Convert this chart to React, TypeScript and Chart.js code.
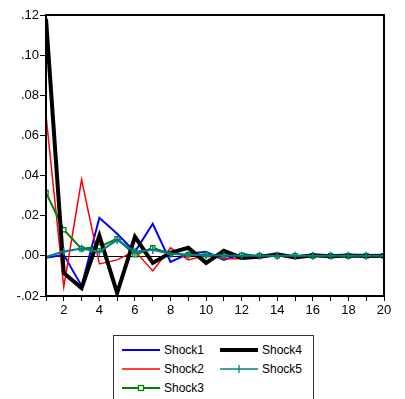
import React, { useEffect, useRef } from "react";
import { Chart, registerables } from "chart.js";

Chart.register(...registerables);

const periods = [1, 2, 3, 4, 5, 6, 7, 8, 9, 10, 11, 12, 13, 14, 15, 16, 17, 18, 19, 20];
const shock1 = [-0.001, 0.0005, -0.015, 0.019, 0.011, 0.002, 0.016, -0.003, 0.001, 0.002, -0.002, 0.001, -0.0005, 0.0005, -0.0003, 0.0002, -0.0001, 0.0001, 0, 0];
const shock2 = [0.07, -0.0155, 0.038, -0.004, -0.002, 0.0025, -0.0075, 0.004, -0.002, 0.0003, -0.0015, -0.0015, 0.0005, 0.0003, -0.0003, 0.0002, -0.0001, 0.0001, 0, 0];
const shock3 = [0.0315, 0.013, 0.0035, 0.0045, 0.0085, 0.0005, 0.004, 0.001, 0.0005, 0.0005, 0.0003, 0.0003, 0.0001, 0.0001, 0.0001, 0, 0, 0, 0, 0];
const shock4 = [0.118, -0.0085, -0.016, 0.01, -0.0185, 0.0095, -0.0035, 0.0015, 0.004, -0.0035, 0.0025, -0.001, -0.0005, 0.0008, -0.0008, 0.0003, -0.0002, 0.0002, -0.0001, 0];
const shock5 = [-0.0005, 0.0022, 0.0037, 0.002, 0.008, 0.002, 0.003, 0.001, 0.0005, 0.0003, 0.0002, 0.0001, 0, 0, 0, 0, 0, 0, 0, 0];

const seriesNames = ["Shock1", "Shock2", "Shock3", "Shock4", "Shock5"];
const yMin = -0.02;
const yMax = 0.12;
const yStep = 0.02;

const FONT = "'Liberation Sans', Arial, sans-serif";

const toXY = (arr: number[]) => arr.map((v, i) => ({ x: periods[i], y: v }));

const framePlugin = {
  id: "frame",
  beforeDatasetsDraw(chart: any) {
    const { ctx, chartArea, scales } = chart;
    const y0 = scales.y.getPixelForValue(0);
    ctx.save();
    ctx.strokeStyle = "#000";
    ctx.lineWidth = 1;
    ctx.beginPath();
    ctx.moveTo(chartArea.left, Math.round(y0) + 0.5);
    ctx.lineTo(chartArea.right, Math.round(y0) + 0.5);
    ctx.stroke();
    ctx.restore();
  },
  afterDraw(chart: any) {
    const { ctx, chartArea } = chart;
    ctx.save();
    ctx.strokeStyle = "#000";
    ctx.lineWidth = 2;
    ctx.strokeRect(chartArea.left, chartArea.top, chartArea.right - chartArea.left, chartArea.bottom - chartArea.top);
    ctx.restore();
  },
};

function LegendLine({ color, width, marker }: { color: string; width: number; marker?: string }) {
  return (
    <svg width={38} height={10} style={{ position: "absolute", left: 0, top: 0 }}>
      <line x1={0} y1={5} x2={38} y2={5} stroke={color} strokeWidth={width} />
      {marker === "rect" && <rect x={16.5} y={2.5} width={5} height={5} fill="#fff" stroke={color} strokeWidth={1.3} />}
      {marker === "cross" && <line x1={19} y1={1} x2={19} y2={9} stroke={color} strokeWidth={1.3} />}
    </svg>
  );
}

export default function App() {
  const canvasRef = useRef<HTMLCanvasElement | null>(null);

  useEffect(() => {
    document.body.style.margin = "0";
    const canvas = canvasRef.current;
    if (!canvas) return;
    const chart = new Chart(canvas, {
      type: "line",
      data: {
        datasets: [
          { label: seriesNames[0], data: toXY(shock1), borderColor: "#0000ff", borderWidth: 2, pointRadius: 0, order: 5 },
          { label: seriesNames[1], data: toXY(shock2), borderColor: "#ff0000", borderWidth: 1.5, pointRadius: 0, order: 4 },
          {
            label: seriesNames[2], data: toXY(shock3), borderColor: "#008000", borderWidth: 2,
            pointStyle: "rect", pointRadius: 3, pointBackgroundColor: "#fff", pointBorderColor: "#008000", pointBorderWidth: 1.3, order: 3,
          },
          { label: seriesNames[3], data: toXY(shock4), borderColor: "#000000", borderWidth: 4, pointRadius: 0, order: 2 },
          {
            label: seriesNames[4], data: toXY(shock5), borderColor: "#008080", borderWidth: 2,
            pointStyle: "cross", pointRadius: 4, pointBorderColor: "#008080", pointBorderWidth: 1.5, order: 1,
          },
        ],
      },
      options: {
        animation: false,
        responsive: false,
        maintainAspectRatio: false,
        layout: { padding: { left: 0, right: 21, top: 15, bottom: 0 } },
        elements: { line: { tension: 0 } },
        plugins: { legend: { display: false }, tooltip: { enabled: false } },
        scales: {
          x: {
            type: "linear",
            min: 1,
            max: 20,
            border: { display: false },
            grid: { display: true, drawOnChartArea: false, drawTicks: true, tickLength: 5, color: "#000" },
            ticks: {
              stepSize: 1,
              autoSkip: false,
              maxRotation: 0,
              padding: 2,
              color: "#000",
              font: { family: FONT, size: 13 },
              callback: (v: any) => (Number(v) % 2 === 0 ? String(v) : ""),
            },
            afterFit: (s: any) => { s.height = 34; },
          },
          y: {
            min: yMin,
            max: yMax,
            border: { display: false },
            grid: { display: true, drawOnChartArea: false, drawTicks: true, tickLength: 6, color: "#000" },
            ticks: {
              stepSize: yStep,
              padding: 1,
              color: "#000",
              font: { family: FONT, size: 13 },
              callback: (v: any) => {
                const n = Math.round(Number(v) * 100) / 100;
                return n.toFixed(2).replace("0.", ".");
              },
            },
            afterFit: (s: any) => { s.width = 46; },
          },
        },
      },
      plugins: [framePlugin],
    });
    return () => chart.destroy();
  }, []);

  const legendItems = [
    { name: seriesNames[0], color: "#0000ff", width: 2, left: 8, top: 9 },
    { name: seriesNames[1], color: "#ff0000", width: 1.5, left: 8, top: 28 },
    { name: seriesNames[2], color: "#008000", width: 2, left: 8, top: 47, marker: "rect" },
    { name: seriesNames[3], color: "#000000", width: 4, left: 106, top: 9 },
    { name: seriesNames[4], color: "#008080", width: 1.5, left: 106, top: 28, marker: "cross" },
  ];

  return (
    <div style={{ position: "absolute", left: 0, top: 0, width: 405, height: 399, overflow: "hidden", background: "#fff" }}>
      <canvas ref={canvasRef} width={405} height={330} style={{ position: "absolute", left: 0, top: 0, width: 405, height: 330 }} />
      <div
        style={{
          position: "absolute", left: 113, top: 335, width: 199, height: 70,
          border: "1px solid #333", fontFamily: FONT, fontSize: 12, color: "#000",
        }}
      >
        {legendItems.map((it) => (
          <div key={it.name} style={{ position: "absolute", left: it.left, top: it.top, height: 12 }}>
            <LegendLine color={it.color} width={it.width} marker={it.marker} />
            <span style={{ position: "absolute", left: 42, top: -1, lineHeight: "12px", whiteSpace: "nowrap" }}>{it.name}</span>
          </div>
        ))}
      </div>
    </div>
  );
}
